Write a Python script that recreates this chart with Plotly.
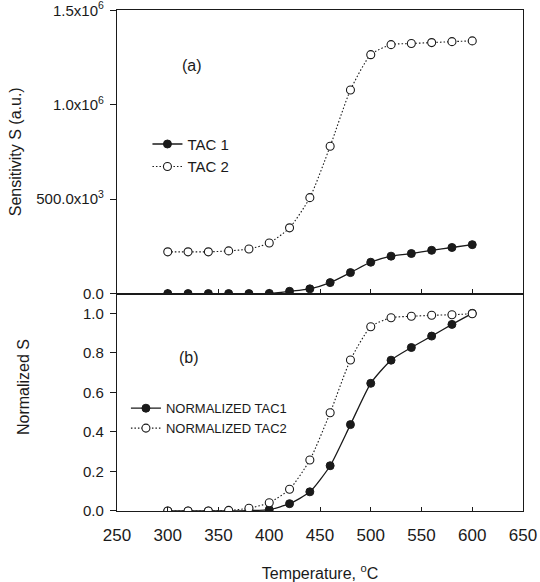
import plotly.graph_objects as go
from plotly.subplots import make_subplots

temperature = [300, 320, 340, 360, 380, 400, 420, 440, 460, 480, 500, 520, 540, 560, 580, 600]

tac1 = [0, 0, 0, 0, 0, 1e3, 12e3, 25e3, 58e3, 111e3, 166e3, 198e3, 212e3, 229e3, 244e3, 259e3]
tac2 = [221e3, 221e3, 221e3, 226e3, 236e3, 268e3, 348e3, 508e3, 780e3, 1078e3, 1265e3,
        1318e3, 1324e3, 1329e3, 1334e3, 1338e3]

norm_tac1 = [0, 0, 0, 0, 0.002, 0.007, 0.037, 0.097, 0.229, 0.437, 0.646, 0.763, 0.827,
             0.885, 0.944, 1.0]
norm_tac2 = [0, 0, 0, 0.003, 0.014, 0.042, 0.11, 0.258, 0.497, 0.764, 0.932, 0.978, 0.985,
             0.99, 0.993, 0.998]

top_tickvals = [0, 500e3, 1.0e6, 1.5e6]
top_ticktext = ["0.0", "500.0x10<sup>3</sup>", "1.0x10<sup>6</sup>", "1.5x10<sup>6</sup>"]
bottom_tickvals = [0, 0.2, 0.4, 0.6, 0.8, 1.0]
x_tickvals = [250, 300, 350, 400, 450, 500, 550, 600, 650]

FONT = "Liberation Sans, Arial, sans-serif"
INK = "#1a1a1a"
DOTS = "1.5px,2px"

fig = make_subplots(rows=2, cols=1, shared_xaxes=False, vertical_spacing=0,
                    row_heights=[0.566, 0.434])

fig.add_trace(go.Scatter(x=temperature, y=tac1, name="TAC 1", mode="lines+markers",
                         line=dict(color=INK, width=1.3, shape="spline", smoothing=0.6),
                         marker=dict(symbol="circle", size=8, color=INK,
                                     line=dict(color=INK, width=1)),
                         legend="legend"), row=1, col=1)
fig.add_trace(go.Scatter(x=temperature, y=tac2, name="TAC 2", mode="lines+markers",
                         line=dict(color=INK, width=1.1, dash=DOTS, shape="spline", smoothing=0.6),
                         marker=dict(symbol="circle", size=8, color="white",
                                     line=dict(color=INK, width=1.1)),
                         legend="legend"), row=1, col=1)
fig.add_trace(go.Scatter(x=temperature, y=norm_tac1, name="NORMALIZED TAC1", mode="lines+markers",
                         line=dict(color=INK, width=1.3, shape="spline", smoothing=0.6),
                         marker=dict(symbol="circle", size=8, color=INK,
                                     line=dict(color=INK, width=1)),
                         legend="legend2"), row=2, col=1)
fig.add_trace(go.Scatter(x=temperature, y=norm_tac2, name="NORMALIZED TAC2", mode="lines+markers",
                         line=dict(color=INK, width=1.1, dash=DOTS, shape="spline", smoothing=0.6),
                         marker=dict(symbol="circle", size=8, color="white",
                                     line=dict(color=INK, width=1.1)),
                         legend="legend2"), row=2, col=1)

axis_common = dict(showline=True, linecolor=INK, linewidth=1.3, showgrid=False, zeroline=False,
                   tickcolor=INK, tickfont=dict(family=FONT, size=15, color=INK),
                   ticklabeloverflow="allow", automargin=False)

fig.update_xaxes(range=[250, 650], tickvals=x_tickvals, ticks="inside", ticklen=4,
                 mirror=True, **axis_common)
fig.update_xaxes(showticklabels=False, row=1, col=1)
fig.update_xaxes(tickfont=dict(family=FONT, size=17, color=INK), ticklabelstandoff=8,
                 title=dict(text="Temperature, <sup>o</sup>C", font=dict(family=FONT, size=16, color=INK),
                            standoff=24),
                 row=2, col=1)

fig.update_yaxes(ticks="outside", ticklen=6, mirror=True, ticklabelstandoff=3, **axis_common)
fig.update_yaxes(range=[0, 1.5e6 * 1.001], tickvals=top_tickvals, ticktext=top_ticktext,
                 title=dict(text="Sensitivity S (a.u.)", font=dict(family=FONT, size=16, color=INK),
                            standoff=10),
                 row=1, col=1)
fig.update_yaxes(range=[0, 1.1], tickvals=bottom_tickvals, tickformat=".1f", row=2, col=1)

# Bottom panel's y title sits above the domain centre in the reference, so it is placed directly.
fig.add_annotation(text="Normalized S", x=-0.232, y=0.247, xref="paper", yref="paper",
                   xanchor="center", yanchor="middle", textangle=-90, showarrow=False,
                   font=dict(family=FONT, size=16, color=INK))

fig.add_annotation(text="(a)", x=0.184, y=0.89, xref="paper", yref="paper", showarrow=False,
                   xanchor="center", yanchor="middle",
                   font=dict(family=FONT, size=16, color=INK))
fig.add_annotation(text="(b)", x=0.177, y=0.306, xref="paper", yref="paper", showarrow=False,
                   xanchor="center", yanchor="middle",
                   font=dict(family=FONT, size=16, color=INK))

fig.update_layout(
    width=540, height=582,
    margin=dict(l=117, r=17, t=10, b=71, autoexpand=False),
    paper_bgcolor="white", plot_bgcolor="white",
    font=dict(family=FONT, color=INK),
    legend=dict(x=0.075, y=0.765, xanchor="left", yanchor="top", bgcolor="rgba(0,0,0,0)",
                font=dict(family=FONT, size=15, color=INK), tracegroupgap=0, itemwidth=30),
    legend2=dict(x=0.022, y=0.235, xanchor="left", yanchor="top", bgcolor="rgba(0,0,0,0)",
                 font=dict(family=FONT, size=13, color=INK), tracegroupgap=0, itemwidth=30),
)

# Remove the browser's default 8px body margin so the 540x582 figure fills the window exactly.
fig.write_html("out.html", config={"displayModeBar": False},
               post_script="document.body.style.margin='0px';")
